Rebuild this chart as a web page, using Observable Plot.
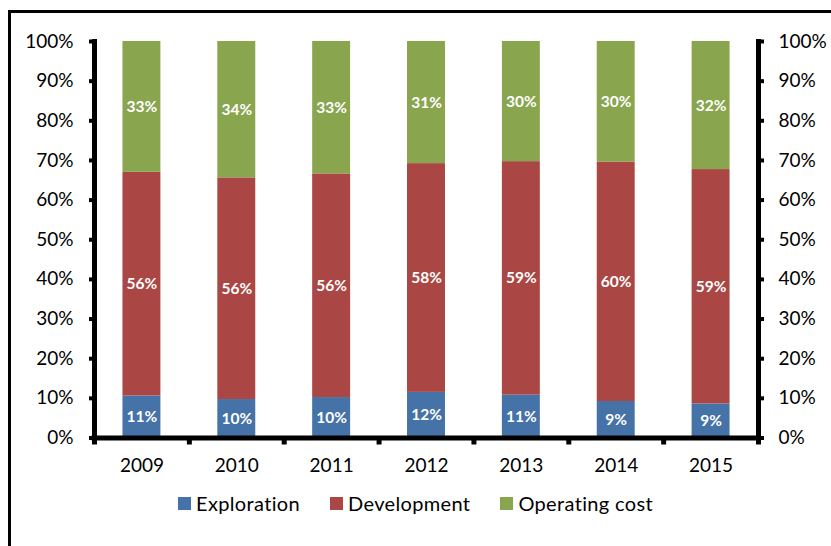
<!DOCTYPE html>
<html>
<head>
<meta charset="utf-8">
<script src="https://cdn.jsdelivr.net/npm/d3@7"></script>
<script src="https://cdn.jsdelivr.net/npm/@observablehq/plot@0.6"></script>
<style>
  html, body { margin: 0; padding: 0; background: #fff; }
  body { width: 831px; height: 546px; position: relative; overflow: hidden; font-family: Lato, "Open Sans", sans-serif; }
  #frame { position: absolute; left: 8px; top: 10px; width: 900px; height: 600px; border-top: 3px solid #000; border-left: 3px solid #000; z-index: 2; pointer-events: none; }
  #chart { position: absolute; left: 0; top: 0; }
  #legend { position: absolute; left: 0; top: 491px; width: 831px; display: flex; justify-content: center; font-size: 20px; line-height: 24px; letter-spacing: 0.35px; color: #000; }
  .item { display: flex; align-items: center; margin: 0 15px; }
  .sw { width: 13px; height: 13px; margin-right: 5px; }
</style>
</head>
<body>
<div id="frame"></div>
<div id="chart"></div>
<div id="legend"></div>
<script>
const years = ["2009", "2010", "2011", "2012", "2013", "2014", "2015"];
const series = ["Exploration", "Development", "Operating cost"];
const colors = ["#4572A7", "#AA4643", "#89A54E"];
const exploration = [10.6, 9.7, 10.2, 11.5, 10.8, 9.2, 8.6];
const development = [56.4, 55.9, 56.4, 57.7, 58.9, 60.4, 59.1];
const operating = [33.0, 34.4, 33.4, 30.8, 30.3, 30.4, 32.3];
const yTicks = [0, 10, 20, 30, 40, 50, 60, 70, 80, 90, 100];

const values = [exploration, development, operating];
const rows = [];
series.forEach((s, si) => years.forEach((yr, i) => rows.push({year: yr, series: s, value: values[si][i]})));

const W = 831, H = 480, mL = 94, mR = 73, mT = 41, mB = 42.5;
const step = (W - mL - mR) / years.length;

const plot = Plot.plot({
  width: W,
  height: H,
  marginLeft: mL,
  marginRight: mR,
  marginTop: mT,
  marginBottom: mB,
  style: {background: "transparent", fontFamily: "Lato, 'Open Sans', sans-serif", color: "#000"},
  x: {type: "band", domain: years, paddingInner: 0.6, paddingOuter: 0.3, round: false, axis: null, label: null},
  y: {domain: [0, 100], axis: null, label: null},
  color: {domain: series, range: colors},
  marks: [
    Plot.barY(rows, Plot.stackY({x: "year", y: "value", z: "series", fill: "series"})),
    Plot.text(rows, Plot.stackY({x: "year", y: "value", z: "series",
      text: d => Math.round(d.value) + "%", fill: "white", fontWeight: "bold", fontSize: 15.5})),
    Plot.frame({anchor: "left", strokeWidth: 5}),
    Plot.frame({anchor: "right", strokeWidth: 5}),
    Plot.ruleY([0], {strokeWidth: 5, strokeLinecap: "square"}),
    Plot.axisY({anchor: "left", ticks: yTicks, tickSize: 5, tickPadding: 16, strokeWidth: 4,
      tickFormat: d => d + "%", fontSize: 19, label: null}),
    Plot.axisY({anchor: "right", ticks: yTicks, tickSize: 5, tickPadding: 15, strokeWidth: 4,
      tickFormat: d => d + "%", fontSize: 19, label: null}),
    Plot.axisX({ticks: years, tickSize: 7, strokeWidth: 5, dx: -step / 2, tickFormat: () => "", label: null}),
    Plot.axisX({ticks: years.slice(-1), tickSize: 7, strokeWidth: 5, dx: step / 2, tickFormat: () => "", label: null}),
    Plot.axisX({ticks: years, tickSize: 0, tickPadding: 20, fontSize: 19, label: null})
  ]
});
document.getElementById("chart").appendChild(plot);

const legend = document.getElementById("legend");
series.forEach((s, i) => {
  const it = document.createElement("div");
  it.className = "item";
  const sw = document.createElement("div");
  sw.className = "sw";
  sw.style.background = colors[i];
  const t = document.createElement("span");
  t.textContent = s;
  it.appendChild(sw);
  it.appendChild(t);
  legend.appendChild(it);
});
</script>
</body>
</html>
